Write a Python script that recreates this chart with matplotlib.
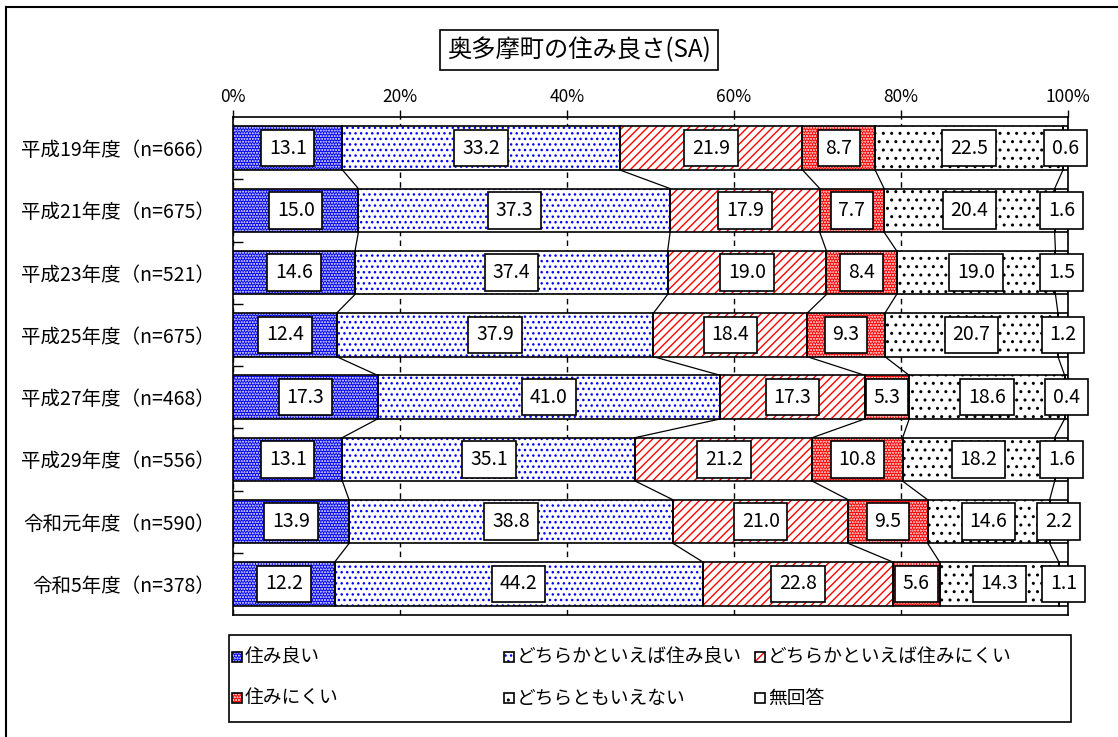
import matplotlib
matplotlib.use("Agg")
import matplotlib.pyplot as plt
from matplotlib.patches import Rectangle
from matplotlib.lines import Line2D
import numpy as np

plt.rcParams['font.family'] = ['Noto Sans CJK JP', 'DejaVu Sans']
plt.rcParams['hatch.linewidth'] = 1.0

# data
years = ["平成19年度（n=666）", "平成21年度（n=675）", "平成23年度（n=521）",
         "平成25年度（n=675）", "平成27年度（n=468）", "平成29年度（n=556）",
         "令和元年度（n=590）", "令和5年度（n=378）"]
series = ["住み良い", "どちらかといえば住み良い", "どちらかといえば住みにくい",
          "住みにくい", "どちらともいえない", "無回答"]
sumiyoi = [13.1, 15.0, 14.6, 12.4, 17.3, 13.1, 13.9, 12.2]
dochira_yoi = [33.2, 37.3, 37.4, 37.9, 41.0, 35.1, 38.8, 44.2]
dochira_nikui = [21.9, 17.9, 19.0, 18.4, 17.3, 21.2, 21.0, 22.8]
sumi_nikui = [8.7, 7.7, 8.4, 9.3, 5.3, 10.8, 9.5, 5.6]
dochiramo = [22.5, 20.4, 19.0, 20.7, 18.6, 18.2, 14.6, 14.3]
mukaitou = [0.6, 1.6, 1.5, 1.2, 0.4, 1.6, 2.2, 1.1]

# (face, hatch colour, hatch)
styles = [("#0000ee", "white", "......"),
          ("white", "#0000ff", "..."),
          ("white", "#ff0000", "////"),
          ("#ff0000", "white", "......"),
          ("white", "black", ".."),
          ("white", "white", "")]

vals = np.array([sumiyoi, dochira_yoi, dochira_nikui, sumi_nikui, dochiramo, mukaitou])
pct = vals / vals.sum(axis=0) * 100  # 100% stacked
cum = np.vstack([np.zeros(len(years)), np.cumsum(pct, axis=0)])

W, H = 1118, 737
fig = plt.figure(figsize=(W / 100, H / 100), dpi=100)
ax = fig.add_axes([233 / W, 1 - 615 / H, (1068 - 233) / W, (615 - 117) / H])

y = np.arange(len(years))
bh = 0.7
for k in range(len(series)):
    face, hc, hatch = styles[k]
    ax.barh(y, pct[k], left=cum[k], height=bh, color=face, edgecolor=hc,
            hatch=hatch, linewidth=0, zorder=2)
    ax.barh(y, pct[k], left=cum[k], height=bh, fill=False, edgecolor="black",
            linewidth=1.2, zorder=3)
    for i in range(len(years)):
        ax.text(cum[k][i] + pct[k][i] / 2, y[i], "%.1f" % vals[k][i],
                ha="center", va="center", fontsize=14, zorder=5,
                bbox=dict(boxstyle="square,pad=0.4", fc="white", ec="black", lw=1.2))

# series lines
for k in range(1, len(series)):
    for i in range(len(years) - 1):
        ax.plot([cum[k][i], cum[k][i + 1]], [i + bh / 2, i + 1 - bh / 2],
                color="black", lw=0.9, zorder=1)

ax.set_xlim(0, 100)
ax.set_ylim(len(years) - 0.5, -0.5)
ax.set_xticks(np.arange(0, 101, 20))
ax.set_xticklabels(["%d%%" % v for v in range(0, 101, 20)], fontsize=12.5)
ax.xaxis.tick_top()
ax.tick_params(axis="x", direction="out", length=5, width=1, pad=3)
ax.set_yticks(y)
ax.set_yticklabels(years, fontsize=14)
ax.tick_params(axis="y", length=0, pad=13)
ax.set_yticks(np.arange(0.5, len(years) - 0.5, 1), minor=True)
ax.tick_params(axis="y", which="minor", direction="in", length=7, width=1)
ax.grid(axis="x", linestyle=(0, (4, 3)), color="black", lw=1, zorder=0)
for s in ax.spines.values():
    s.set_linewidth(1.2)

# title box
fig.text(579 / W, 1 - 50 / H, "奥多摩町の住み良さ(SA)", ha="center", va="center",
         fontsize=17.5,
         bbox=dict(boxstyle="square,pad=0.3", fc="white", ec="black", lw=1.2))

# outer frame (left and top only visible)
fig.add_artist(Line2D([6 / W, 6 / W], [0, 1 - 7 / H], color="black", lw=1.5))
fig.add_artist(Line2D([6 / W, 1], [1 - 7 / H, 1 - 7 / H], color="black", lw=1.5))

# legend box
fig.add_artist(Rectangle((229 / W, 1 - 722 / H), (1071 - 229) / W, (722 - 635) / H,
                         transform=fig.transFigure, fill=False, ec="black", lw=1.2))
leg_x = [232, 504, 755]
leg_y = [657, 698]
for k in range(len(series)):
    face, hc, hatch = styles[k]
    x0 = leg_x[k % 3]
    y0 = leg_y[k // 3]
    sz = 10
    fig.add_artist(Rectangle((x0 / W, 1 - (y0 + sz / 2) / H), sz / W, sz / H,
                             transform=fig.transFigure, facecolor=face, edgecolor=hc,
                             hatch=hatch, lw=0))
    fig.add_artist(Rectangle((x0 / W, 1 - (y0 + sz / 2) / H), sz / W, sz / H,
                             transform=fig.transFigure, fill=False, ec="black", lw=1.2))
    fig.text((x0 + 13) / W, 1 - y0 / H, series[k], ha="left", va="center", fontsize=13.5)

fig.savefig("out.png", dpi=100)
